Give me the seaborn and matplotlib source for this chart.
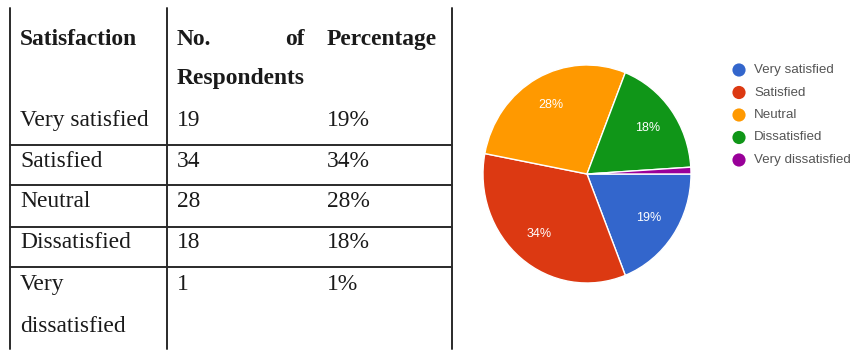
import matplotlib
matplotlib.use("Agg")
import matplotlib.pyplot as plt
import seaborn as sns

# Survey results
categories = ["Very satisfied", "Satisfied", "Neutral", "Dissatisfied", "Very dissatisfied"]
respondents = [19, 34, 28, 18, 1]
percent_labels = ["19%", "34%", "28%", "18%", "1%"]
table_rows = [["Very satisfied"], ["Satisfied"], ["Neutral"], ["Dissatisfied"], ["Very", "dissatisfied"]]

sns.set_theme(style="white")
palette = sns.color_palette(["#3366cc", "#dc3912", "#ff9900", "#109618", "#990099"])

W, H = 861, 351
fig = plt.figure(figsize=(W / 100, H / 100), dpi=100)
fig.patch.set_facecolor("white")

# Overlay axes in pixel coordinates for the table
tab = fig.add_axes([0, 0, 1, 1])
tab.set_xlim(0, W)
tab.set_ylim(H, 0)
tab.axis("off")

line_kw = dict(color="#2a2a2a", lw=1.4)
for x in (10, 167, 452):
    tab.plot([x, x], [8, 349], **line_kw)
for y in (145, 185, 227, 267):
    tab.plot([10, 452], [y, y], **line_kw)

serif = ["Liberation Serif", "DejaVu Serif"]
fs = 16.9
tc = "#1a1a1a"
tab.text(20, 45, "Satisfaction", fontsize=fs, fontweight="bold", family=serif, color=tc, va="baseline")
tab.text(177, 45, "No.", fontsize=fs, fontweight="bold", family=serif, color=tc, va="baseline")
tab.text(305, 45, "of", fontsize=fs, fontweight="bold", family=serif, color=tc, va="baseline", ha="right")
tab.text(177, 84, "Respondents", fontsize=fs, fontweight="bold", family=serif, color=tc, va="baseline")
tab.text(327, 45, "Percentage", fontsize=fs, fontweight="bold", family=serif, color=tc, va="baseline")

baselines = [126, 167, 207, 248, 290]
for lines, n, p, yb in zip(table_rows, respondents, percent_labels, baselines):
    for k, t in enumerate(lines):
        tab.text(20, yb + 42 * k, t, fontsize=fs, family=serif, color=tc, va="baseline")
    tab.text(177, yb, str(n), fontsize=fs, family=serif, color=tc, va="baseline")
    tab.text(327, yb, p, fontsize=fs, family=serif, color=tc, va="baseline")

# Pie chart
cx, cy, rw, rh = 587, 174, 104, 109
pie_ax = fig.add_axes([(cx - rw) / W, 1 - (cy + rh) / H, 2 * rw / W, 2 * rh / H])
wedges, texts, autotexts = pie_ax.pie(
    respondents,
    colors=palette,
    startangle=0,
    counterclock=False,
    autopct=lambda v: f"{v:.0f}%" if v >= 5 else "",
    pctdistance=0.72,
    wedgeprops=dict(edgecolor="white", linewidth=1.0),
    textprops=dict(color="white", fontsize=9, family=["Liberation Sans", "DejaVu Sans"]),
)
pie_ax.set_aspect("auto")
pie_ax.set_xlim(-1, 1)
pie_ax.set_ylim(-1, 1)

# Legend
sans = ["Liberation Sans", "DejaVu Sans"]
for i, (name, col) in enumerate(zip(categories, palette)):
    y = 70 + 22.5 * i
    tab.scatter([739], [y], s=90, color=col, edgecolors="none", zorder=3)
    tab.text(754, y, name, fontsize=9.6, family=sans, color="#555555", va="center")

fig.savefig("out.png", dpi=100, facecolor="white")
